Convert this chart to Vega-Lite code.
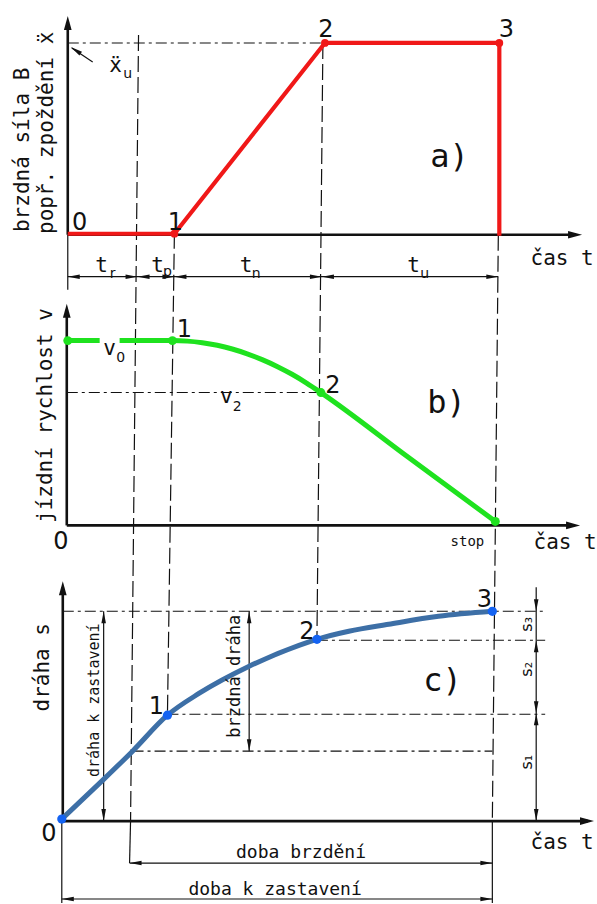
{
  "$schema": "https://vega.github.io/schema/vega-lite/v6.json",
  "width": 597,
  "height": 904,
  "autosize": {"type": "fit", "contains": "padding"},
  "padding": 0,
  "background": "white",
  "config": {"view": {"stroke": null}, "text": {"font": "DejaVu Sans Mono", "color": "#111"}},
  "encoding": {
    "x": {"field": "x", "type": "quantitative", "scale": {"domain": [0, 597], "nice": false, "zero": false}, "axis": null},
    "y": {"field": "y", "type": "quantitative", "scale": {"domain": [0, 904], "nice": false, "zero": false, "reverse": true}, "axis": null}
  },
  "layer": [
    {
      "data": {"values": [
        {"x": 139, "y": 35, "x2": 131, "y2": 822},
        {"x": 175, "y": 233, "x2": 168, "y2": 716},
        {"x": 324, "y": 43, "x2": 318, "y2": 640},
        {"x": 500, "y": 235, "x2": 494, "y2": 822}
      ]},
      "mark": {"type": "rule", "stroke": "#111", "strokeWidth": 1.2, "strokeDash": [16, 5]},
      "encoding": {"x2": {"field": "x2"}, "y2": {"field": "y2"}}
    },
    {
      "data": {"values": [
        {"x": 68, "y": 43, "x2": 325, "y2": 43},
        {"x": 67, "y": 393, "x2": 322, "y2": 393},
        {"x": 63, "y": 612, "x2": 547, "y2": 612},
        {"x": 318, "y": 641, "x2": 547, "y2": 641},
        {"x": 168, "y": 715, "x2": 547, "y2": 715},
        {"x": 133, "y": 752, "x2": 494, "y2": 752}
      ]},
      "mark": {"type": "rule", "stroke": "#111", "strokeWidth": 1.1, "strokeDash": [11, 4, 3, 4]},
      "encoding": {"x2": {"field": "x2"}, "y2": {"field": "y2"}}
    },
    {
      "data": {"values": [
        {"x": 68, "y": 277, "x2": 500, "y2": 277},
        {"x": 68, "y": 235, "x2": 68, "y2": 290},
        {"x": 131, "y": 822, "x2": 130, "y2": 864},
        {"x": 494, "y": 822, "x2": 494, "y2": 904},
        {"x": 62, "y": 822, "x2": 62, "y2": 904},
        {"x": 104, "y": 612, "x2": 104, "y2": 822},
        {"x": 250, "y": 612, "x2": 250, "y2": 752},
        {"x": 538, "y": 588, "x2": 538, "y2": 822},
        {"x": 130, "y": 864, "x2": 494, "y2": 864},
        {"x": 62, "y": 900, "x2": 494, "y2": 900},
        {"x": 93, "y": 62, "x2": 72, "y2": 48}
      ]},
      "mark": {"type": "rule", "stroke": "#111", "strokeWidth": 1.2},
      "encoding": {"x2": {"field": "x2"}, "y2": {"field": "y2"}}
    },
    {
      "data": {"values": [
        {"x": 68, "y": 235, "x2": 68, "y2": 22},
        {"x": 68, "y": 235, "x2": 578, "y2": 235},
        {"x": 67, "y": 526, "x2": 67, "y2": 310},
        {"x": 67, "y": 526, "x2": 576, "y2": 526},
        {"x": 63, "y": 822, "x2": 63, "y2": 588},
        {"x": 63, "y": 822, "x2": 590, "y2": 822}
      ]},
      "mark": {"type": "rule", "stroke": "#111", "strokeWidth": 2.6},
      "encoding": {"x2": {"field": "x2"}, "y2": {"field": "y2"}}
    },
    {
      "data": {"values": [
        {"x": 68, "y": 16, "angle": 270},
        {"x": 584, "y": 235, "angle": 0},
        {"x": 67, "y": 304, "angle": 270},
        {"x": 582, "y": 526, "angle": 0},
        {"x": 63, "y": 582, "angle": 270},
        {"x": 596, "y": 822, "angle": 0}
      ]},
      "mark": {"type": "point", "filled": true, "color": "#111", "opacity": 1, "shape": "M0,0L-2,-0.55L-2,0.55Z", "size": 196},
      "encoding": {"angle": {"field": "angle", "type": "quantitative", "scale": null}}
    },
    {
      "data": {"values": [
        {"x": 68, "y": 277, "angle": 180},
        {"x": 138, "y": 277, "angle": 0},
        {"x": 138, "y": 277, "angle": 180},
        {"x": 175, "y": 277, "angle": 0},
        {"x": 175, "y": 277, "angle": 180},
        {"x": 323, "y": 277, "angle": 0},
        {"x": 323, "y": 277, "angle": 180},
        {"x": 500, "y": 277, "angle": 0},
        {"x": 104, "y": 612, "angle": 270},
        {"x": 104, "y": 822, "angle": 90},
        {"x": 250, "y": 612, "angle": 270},
        {"x": 250, "y": 752, "angle": 90},
        {"x": 538, "y": 612, "angle": 90},
        {"x": 538, "y": 641, "angle": 270},
        {"x": 538, "y": 714, "angle": 90},
        {"x": 538, "y": 714, "angle": 270},
        {"x": 538, "y": 822, "angle": 90},
        {"x": 130, "y": 864, "angle": 180},
        {"x": 494, "y": 864, "angle": 0},
        {"x": 62, "y": 900, "angle": 180},
        {"x": 494, "y": 900, "angle": 0},
        {"x": 71, "y": 47, "angle": 214}
      ]},
      "mark": {"type": "point", "filled": true, "color": "#111", "opacity": 1, "shape": "M0,0L-2,-0.38L-2,0.38Z", "size": 144},
      "encoding": {"angle": {"field": "angle", "type": "quantitative", "scale": null}}
    },
    {
      "data": {"values": [
        {"i": 0, "x": 68, "y": 234},
        {"i": 1, "x": 175, "y": 234},
        {"i": 2, "x": 326, "y": 43},
        {"i": 3, "x": 501, "y": 43},
        {"i": 4, "x": 501, "y": 236}
      ]},
      "mark": {"type": "line", "color": "#f01818", "strokeWidth": 4.2, "strokeJoin": "round"},
      "encoding": {"order": {"field": "i"}}
    },
    {
      "data": {"values": [
        {"x": 175, "y": 234}, {"x": 326, "y": 43}, {"x": 501, "y": 43}
      ]},
      "mark": {"type": "point", "filled": true, "color": "#f01818", "opacity": 1, "size": 60}
    },
    {
      "data": {"values": [
        {"seg": "a", "i": 0, "x": 68, "y": 341},
        {"seg": "a", "i": 1, "x": 100, "y": 341},
        {"seg": "b", "i": 0, "x": 120, "y": 341},
        {"seg": "b", "i": 1, "x": 173, "y": 341},
        {"seg": "b", "i": 2, "x": 188, "y": 341.5},
        {"seg": "b", "i": 3, "x": 203, "y": 343.1},
        {"seg": "b", "i": 4, "x": 218, "y": 345.7},
        {"seg": "b", "i": 5, "x": 233, "y": 349.4},
        {"seg": "b", "i": 6, "x": 248, "y": 354.2},
        {"seg": "b", "i": 7, "x": 263, "y": 360.0},
        {"seg": "b", "i": 8, "x": 278, "y": 366.8},
        {"seg": "b", "i": 9, "x": 293, "y": 374.7},
        {"seg": "b", "i": 10, "x": 308, "y": 383.7},
        {"seg": "b", "i": 11, "x": 322, "y": 393},
        {"seg": "b", "i": 12, "x": 410, "y": 458},
        {"seg": "b", "i": 13, "x": 497, "y": 522}
      ]},
      "mark": {"type": "line", "color": "#1fe21f", "strokeWidth": 5, "interpolate": "monotone"},
      "encoding": {"detail": {"field": "seg"}, "order": {"field": "i"}}
    },
    {
      "data": {"values": [
        {"x": 68, "y": 341}, {"x": 173, "y": 341}, {"x": 322, "y": 393}, {"x": 497, "y": 522}
      ]},
      "mark": {"type": "point", "filled": true, "color": "#1fe21f", "opacity": 1, "size": 80}
    },
    {
      "data": {"values": [
        {"i": 0, "x": 62, "y": 820},
        {"i": 1, "x": 100, "y": 784},
        {"i": 2, "x": 133, "y": 752},
        {"i": 3, "x": 168, "y": 716},
        {"i": 4, "x": 200, "y": 694},
        {"i": 5, "x": 250, "y": 667},
        {"i": 6, "x": 300, "y": 646},
        {"i": 7, "x": 318, "y": 640},
        {"i": 8, "x": 350, "y": 632},
        {"i": 9, "x": 390, "y": 625},
        {"i": 10, "x": 440, "y": 617},
        {"i": 11, "x": 494, "y": 612}
      ]},
      "mark": {"type": "line", "color": "#3d6fa6", "strokeWidth": 5, "interpolate": "monotone"},
      "encoding": {"order": {"field": "i"}}
    },
    {
      "data": {"values": [
        {"x": 62, "y": 820}, {"x": 168, "y": 716}, {"x": 318, "y": 640}, {"x": 494, "y": 612}
      ]},
      "mark": {"type": "point", "filled": true, "color": "#1463f2", "opacity": 1, "size": 85}
    },
    {
      "data": {"values": [
        {"x": 23, "y": 150, "label": "brzdná síla B"},
        {"x": 47, "y": 133, "label": "popř. zpoždění ẍ"},
        {"x": 46, "y": 416, "label": "jízdní rychlost v"},
        {"x": 43, "y": 668, "label": "dráha s"}
      ]},
      "mark": {"type": "text", "angle": 270, "align": "center", "baseline": "middle", "fontSize": 21},
      "encoding": {"text": {"field": "label"}}
    },
    {
      "data": {"values": [
        {"x": 94, "y": 701, "label": "dráha k zastavení"}
      ]},
      "mark": {"type": "text", "angle": 270, "align": "center", "baseline": "middle", "fontSize": 15},
      "encoding": {"text": {"field": "label"}}
    },
    {
      "data": {"values": [
        {"x": 236, "y": 677, "label": "brzdná dráha"}
      ]},
      "mark": {"type": "text", "angle": 270, "align": "center", "baseline": "middle", "fontSize": 17},
      "encoding": {"text": {"field": "label"}}
    },
    {
      "data": {"values": [
        {"x": 529, "y": 625, "label": "s₃"},
        {"x": 529, "y": 670, "label": "s₂"},
        {"x": 529, "y": 763, "label": "s₁"}
      ]},
      "mark": {"type": "text", "angle": 270, "align": "center", "baseline": "middle", "fontSize": 16, "font": "DejaVu Sans"},
      "encoding": {"text": {"field": "label"}}
    },
    {
      "data": {"values": [
        {"x": 80, "y": 230, "label": "0"},
        {"x": 176, "y": 230, "label": "1"},
        {"x": 327, "y": 37, "label": "2"},
        {"x": 508, "y": 37, "label": "3"},
        {"x": 185, "y": 337, "label": "1"},
        {"x": 334, "y": 393, "label": "2"},
        {"x": 61, "y": 550, "label": "0"},
        {"x": 49, "y": 842, "label": "0"},
        {"x": 157, "y": 715, "label": "1"},
        {"x": 308, "y": 640, "label": "2"},
        {"x": 486, "y": 608, "label": "3"}
      ]},
      "mark": {"type": "text", "align": "center", "baseline": "alphabetic", "fontSize": 24, "font": "DejaVu Sans"},
      "encoding": {"text": {"field": "label"}}
    },
    {
      "data": {"values": [
        {"x": 451, "y": 167, "label": "a)"},
        {"x": 448, "y": 413, "label": "b)"},
        {"x": 444, "y": 692, "label": "c)"}
      ]},
      "mark": {"type": "text", "align": "center", "baseline": "alphabetic", "fontSize": 32},
      "encoding": {"text": {"field": "label"}}
    },
    {
      "data": {"values": [
        {"x": 564, "y": 265, "label": "čas t"},
        {"x": 567, "y": 550, "label": "čas t"},
        {"x": 564, "y": 850, "label": "čas t"}
      ]},
      "mark": {"type": "text", "align": "center", "baseline": "alphabetic", "fontSize": 21},
      "encoding": {"text": {"field": "label"}}
    },
    {
      "data": {"values": [
        {"x": 116, "y": 72, "label": "ẍ"},
        {"x": 110, "y": 355, "label": "v"},
        {"x": 227, "y": 403, "label": "v"},
        {"x": 102, "y": 272, "label": "t"},
        {"x": 158, "y": 272, "label": "t"},
        {"x": 247, "y": 272, "label": "t"},
        {"x": 415, "y": 272, "label": "t"}
      ]},
      "mark": {"type": "text", "align": "center", "baseline": "alphabetic", "fontSize": 21},
      "encoding": {"text": {"field": "label"}}
    },
    {
      "data": {"values": [
        {"x": 128, "y": 78, "label": "u"},
        {"x": 121, "y": 362, "label": "0"},
        {"x": 238, "y": 411, "label": "2"},
        {"x": 113, "y": 278, "label": "r"},
        {"x": 168, "y": 276, "label": "p"},
        {"x": 257, "y": 278, "label": "n"},
        {"x": 426, "y": 278, "label": "u"}
      ]},
      "mark": {"type": "text", "align": "center", "baseline": "alphabetic", "fontSize": 14, "font": "DejaVu Sans"},
      "encoding": {"text": {"field": "label"}}
    },
    {
      "data": {"values": [
        {"x": 469, "y": 547, "label": "stop"}
      ]},
      "mark": {"type": "text", "align": "center", "baseline": "alphabetic", "fontSize": 14},
      "encoding": {"text": {"field": "label"}}
    },
    {
      "data": {"values": [
        {"x": 302, "y": 859, "label": "doba  brzdění"},
        {"x": 276, "y": 896, "label": "doba k zastavení"}
      ]},
      "mark": {"type": "text", "align": "center", "baseline": "alphabetic", "fontSize": 18},
      "encoding": {"text": {"field": "label"}}
    }
  ]
}
